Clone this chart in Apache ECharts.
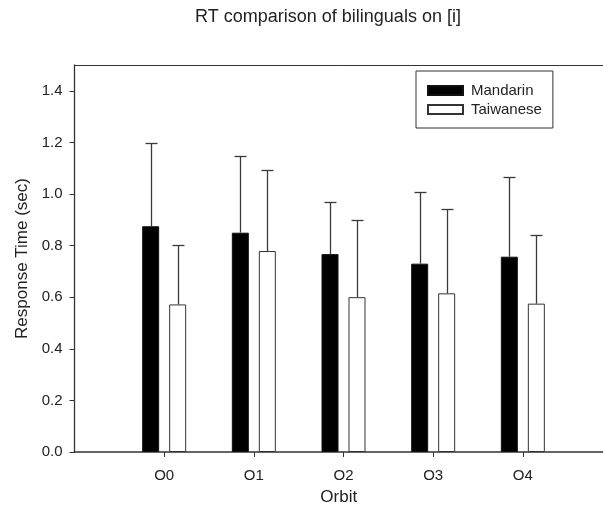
<!DOCTYPE html>
<html>
<head>
<meta charset="utf-8">
<title>RT comparison of bilinguals on [i]</title>
<script src="https://cdn.jsdelivr.net/npm/echarts@6/dist/echarts.min.js"></script>
<style>
  html, body { margin: 0; padding: 0; background: #fff; }
  #chart { width: 603px; height: 511px; }
</style>
</head>
<body>
<div id="chart"></div>
<script>
// Orbit conditions on the x axis
const categories = ['O0', 'O1', 'O2', 'O3', 'O4'];
// Mean response times (sec)
const mandarinMean = [0.875, 0.850, 0.767, 0.730, 0.757];
const taiwaneseMean = [0.572, 0.779, 0.600, 0.615, 0.575];
// Upper end of each error bar (mean + SD)
const mandarinUpper = [1.199, 1.146, 0.970, 1.008, 1.066];
const taiwaneseUpper = [0.804, 1.092, 0.899, 0.941, 0.843];
// Y-axis tick labels
const yTicks = [0.0, 0.2, 0.4, 0.6, 0.8, 1.0, 1.2, 1.4];

const FONT = '"Liberation Sans", Arial, sans-serif';
const INK = '#222';
const BAR_W = 17;
const BAR_GAP = 10;

// x positions: one slot of padding before the first orbit; the frame runs on past the right edge
const xPos = categories.map((c, i) => i);
const X_MIN = -1;
const X_MAX = 4.894;

function errorSeries(name, means, uppers, side) {
  const data = means.map((m, i) => [xPos[i], m, uppers[i]]);
  return {
    type: 'custom',
    name: name + ' error',
    z: 5,
    silent: true,
    data: data,
    renderItem: function (params, api) {
      const top = api.coord([api.value(0), api.value(2)]);
      const base = api.coord([api.value(0), api.value(1)]);
      const x = Math.round(top[0] + side * (BAR_W + BAR_GAP) / 2) + 0.5;
      const yt = Math.round(top[1]) + 0.5;
      const yb = base[1];
      const style = { stroke: '#3a3a3a', lineWidth: 1.3 };
      return {
        type: 'group',
        children: [
          { type: 'line', shape: { x1: x, y1: yb, x2: x, y2: yt }, style: style },
          { type: 'line', shape: { x1: x - 6, y1: yt, x2: x + 6, y2: yt }, style: style }
        ]
      };
    }
  };
}

const chart = echarts.init(document.getElementById('chart'), null, { renderer: 'canvas' });
chart.setOption({
  animation: false,
  backgroundColor: '#fff',
  textStyle: { fontFamily: FONT },
  graphic: [{
    type: 'text',
    x: 328, y: 17,
    style: {
      text: 'RT comparison of bilinguals on [i]',
      fontFamily: FONT, fontSize: 18, fill: INK,
      textAlign: 'center', textVerticalAlign: 'middle'
    }
  }],
  grid: { left: 74.5, top: 65, right: 0, bottom: 59 },
  legend: {
    orient: 'vertical',
    left: 416, top: 71,
    borderColor: '#333', borderWidth: 1,
    padding: [12, 11, 11, 11],
    itemWidth: 35, itemHeight: 9, itemGap: 4,
    icon: 'rect',
    textStyle: { fontFamily: FONT, fontSize: 15, color: INK, padding: [0, 0, 0, 3] },
    data: ['Mandarin', 'Taiwanese']
  },
  xAxis: [
    {
      type: 'value',
      min: X_MIN, max: X_MAX, interval: 1,
      name: 'Orbit',
      nameLocation: 'middle',
      nameGap: 37,
      nameTextStyle: { fontFamily: FONT, fontSize: 17, color: INK },
      axisLine: { show: true, onZero: false, lineStyle: { color: '#333', width: 1.5 } },
      axisTick: { show: true, length: 5, inside: false, customValues: xPos, lineStyle: { color: '#333' } },
      axisLabel: {
        customValues: xPos, margin: 16,
        fontFamily: FONT, fontSize: 15, color: INK,
        formatter: v => categories[Math.round(v)] || ''
      },
      splitLine: { show: false }
    },
    {
      // top edge of the frame
      type: 'value', position: 'top',
      min: X_MIN, max: X_MAX,
      axisLine: { show: true, onZero: false, lineStyle: { color: '#333', width: 1 } },
      axisTick: { show: false }, axisLabel: { show: false }, splitLine: { show: false }
    }
  ],
  yAxis: {
    type: 'value',
    position: 'left',
    min: 0, max: 1.5, interval: 0.2,
    name: 'Response Time (sec)',
    nameLocation: 'middle',
    nameGap: 37,
    nameTextStyle: { fontFamily: FONT, fontSize: 17, color: INK },
    axisLine: { show: true, onZero: false, lineStyle: { color: '#333', width: 1.3 } },
    axisTick: { show: true, length: 5, inside: false, customValues: yTicks, lineStyle: { color: '#333' } },
    axisLabel: {
      customValues: yTicks, margin: 12,
      fontFamily: FONT, fontSize: 15, color: INK,
      formatter: v => v.toFixed(1)
    },
    splitLine: { show: false }
  },
  series: [
    {
      type: 'bar', name: 'Mandarin',
      data: mandarinMean.map((v, i) => [xPos[i], v]),
      barWidth: BAR_W, barGap: (BAR_GAP / BAR_W * 100) + '%',
      itemStyle: { color: '#000', borderColor: '#111', borderWidth: 1 }
    },
    {
      type: 'bar', name: 'Taiwanese',
      data: taiwaneseMean.map((v, i) => [xPos[i], v]),
      barWidth: BAR_W,
      itemStyle: { color: '#fff', borderColor: '#333', borderWidth: 1 }
    },
    errorSeries('Mandarin', mandarinMean, mandarinUpper, -1),
    errorSeries('Taiwanese', taiwaneseMean, taiwaneseUpper, 1)
  ]
});
</script>
</body>
</html>
